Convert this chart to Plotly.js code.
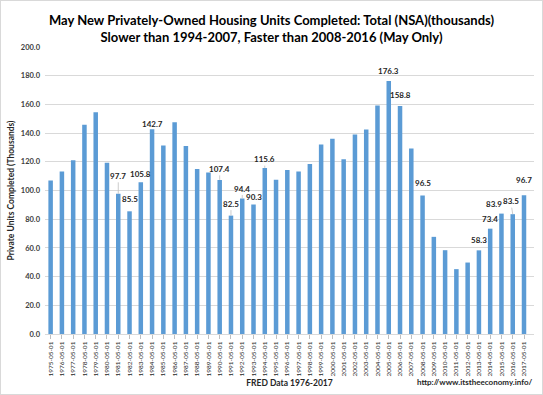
<!DOCTYPE html>
<html><head><meta charset="utf-8">
<script src="https://cdn.plot.ly/plotly-3.0.1.min.js"></script>
<style>html,body{margin:0;padding:0;background:#fff}#chart{width:541px;height:393px;border:1px solid #d9d9d9}</style>
</head><body><div id="chart"></div>
<script>
const years = [1975,1976,1977,1978,1979,1980,1981,1982,1983,1984,1985,1986,1987,1988,1989,1990,1991,1992,1993,1994,1995,1996,1997,1998,1999,2000,2001,2002,2003,2004,2005,2006,2007,2008,2009,2010,2011,2012,2013,2014,2015,2016,2017];
const dateLabels = years.map(y => y + '-05-01');
const values = [107.0,113.2,121.0,145.8,154.6,119.3,97.7,85.5,105.8,142.7,131.4,147.6,131.0,115.0,112.6,107.4,82.5,94.4,90.3,115.6,107.5,114.3,113.3,118.4,132.1,136.0,121.7,139.1,142.5,159.2,176.3,158.8,129.3,96.5,67.7,58.4,45.2,49.8,58.3,73.4,83.9,83.5,96.7];
const labeledYears = [1981,1982,1983,1984,1990,1991,1992,1993,1994,2005,2006,2008,2013,2014,2015,2016,2017];
const titleText = 'May New Privately-Owned Housing Units Completed: Total (NSA)(thousands)<br>Slower than 1994-2007, Faster than 2008-2016 (May Only)';
const yTitle = 'Private Units Completed (Thousands)';
const xTitle = 'FRED Data 1976-2017';
const sourceText = 'http://www.itstheeconomy.info/';

// label placement styles: [pixel rise above bar top, x pixel shift, leader line]
const labelStyle = {
  1981:[12,0,true],1982:[7,0,false],1983:[3,0,false],1984:[0,0,false],
  1990:[5,0,true],1991:[6,0,true],1992:[4,0,true],1993:[2,0,false],1994:[3,0,true],
  2005:[5,0,false],2006:[6,0,false],2008:[8,0,false],2013:[5,0,false],2014:[5,0,false],
  2015:[5,-7,false],2016:[7,-2,true],2017:[10,0,false]
};

const annFont = {family:'Lato, "Open Sans", sans-serif', size:8, color:'#262626', weight:'bold'};
const annotations = labeledYears.map(yr => {
  const i = years.indexOf(yr);
  const st = labelStyle[yr];
  const v = values[i];
  if (st[2]) {
    return {x: dateLabels[i], y: v, xref:'x', yref:'y', text: '<b>' + v.toFixed(1) + '</b>', showarrow:true,
      arrowhead:0, arrowwidth:0.8, arrowcolor:'#bfbfbf', ax: st[1], ay: -st[0] - 6, standoff:0,
      font: annFont};
  }
  return {x: dateLabels[i], y: v, xref:'x', yref:'y', text: '<b>' + v.toFixed(1) + '</b>', showarrow:false,
    yshift: st[0] + 5, xshift: st[1], font: annFont, yanchor:'middle'};
});
annotations.push({x:0.88, y:-0.167, xref:'paper', yref:'paper', text: '<b>' + sourceText + '</b>', showarrow:false,
  font:{family:'Lato, "Open Sans", sans-serif', size:8, color:'#262626'}, xanchor:'center', yanchor:'middle'});

const trace = {type:'bar', x: dateLabels, y: values, marker:{color:'#5b9bd5'}, hoverinfo:'x+y'};

const layout = {
  width:541, height:393,
  margin:{l:44, r:8, t:46, b:60},
  paper_bgcolor:'#ffffff', plot_bgcolor:'#ffffff',
  bargap:0.6,
  showlegend:false,
  title:{text:titleText, x:0.5, xanchor:'center', y:1-24/393, yanchor:'middle', yref:'container',
    font:{family:'Lato, "Open Sans", sans-serif', size:13, color:'#000000', weight:'bold'}},
  xaxis:{type:'category', tickangle:-90, ticks:'outside', ticklen:4, tickcolor:'#bfbfbf',
    showline:true, linecolor:'#d9d9d9', linewidth:1, showgrid:false,
    tickfont:{family:'Lato, "Open Sans", sans-serif', size:6.5, color:'#262626'},
    title:{text:'<b>' + xTitle + '</b>', standoff:4, font:{family:'Lato, "Open Sans", sans-serif', size:8.5, color:'#262626'}},
    automargin:false},
  yaxis:{range:[0,200], dtick:20, tickformat:'.1f', showgrid:true, gridcolor:'#d9d9d9', gridwidth:1,
    zeroline:false, showline:false, ticks:'', ticklabelstandoff:4,
    tickfont:{family:'Lato, "Open Sans", sans-serif', size:7.5, color:'#404040', weight:'bold'},
    title:{text:'<b>' + yTitle + '</b>', standoff:4, font:{family:'Lato, "Open Sans", sans-serif', size:8.5, color:'#262626'}},
    automargin:false},
  annotations: annotations
};

Plotly.newPlot('chart', [trace], layout, {displayModeBar:false, staticPlot:true});
</script>
</body></html>
